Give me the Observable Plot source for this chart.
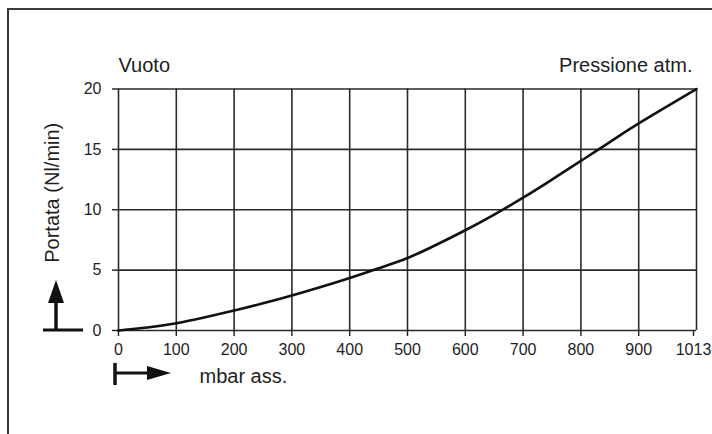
<!DOCTYPE html>
<html><head><meta charset="utf-8">
<script src="https://cdn.jsdelivr.net/npm/d3@7"></script>
<script src="https://cdn.jsdelivr.net/npm/@observablehq/plot@0.6"></script>
<style>
body{margin:0;background:#fff;overflow:hidden;}
#frame{position:absolute;left:7px;top:8px;width:760px;height:480px;border-left:2px solid #3a3a3a;border-top:2px solid #3a3a3a;}
#chart{position:absolute;left:0;top:0;}
</style></head><body>
<div id="frame"></div><div id="chart"></div>
<script>
// data
const pressure = [0, 50, 100, 150, 200, 250, 300, 350, 400, 450, 500, 550, 600, 650, 700, 750, 800, 850, 900, 1013];
const flow     = [0, 0.25, 0.6, 1.1, 1.65, 2.25, 2.9, 3.6, 4.35, 5.15, 6.0, 7.1, 8.3, 9.6, 11.0, 12.5, 14.05, 15.6, 17.15, 20];
const xTicks = [0, 100, 200, 300, 400, 500, 600, 700, 800, 900, 1013];
const yTicks = [0, 5, 10, 15, 20];
const leftTitle = "Vuoto";
const rightTitle = "Pressione atm.";
const xTitle = "mbar ass.";
const yTitle = "Portata (Nl/min)";

const data = pressure.map((p, i) => ({p, f: flow[i]}));
const lastX = xTicks[xTicks.length - 1];

const W = 712, H = 434, mL = 118, mR = 16, mT = 88.5, mB = 104;
const x0 = mL, x1 = W - mR;
const ink = "#1e1e1e";

const plot = Plot.plot({
  width: W, height: H,
  marginLeft: mL, marginRight: mR, marginTop: mT, marginBottom: mB,
  style: {fontFamily: "'Liberation Sans', Arial, sans-serif", background: "transparent", color: ink, overflow: "visible"},
  x: {type: "linear", domain: [0, 900, lastX], range: [x0, x0 + (x1 - x0) * 0.9, x1]},
  y: {type: "linear", domain: [0, 20]},
  marks: [
    Plot.gridX(xTicks, {stroke: "#2a2a2a", strokeOpacity: 1, strokeWidth: 1.6}),
    Plot.gridY(yTicks, {stroke: "#2a2a2a", strokeOpacity: 1, strokeWidth: 1.6}),
    Plot.axisX(xTicks.slice(0, -1), {tickSize: 6, tickPadding: 7, fontSize: 16, label: null, tickFormat: d => String(d), strokeWidth: 1.4}),
    Plot.axisX([lastX], {tickSize: 6, tickPadding: 7, fontSize: 16, label: null, tickFormat: d => String(d), strokeWidth: 1.4, dx: -3}),
    Plot.axisY(yTicks, {tickSize: 6, tickPadding: 11, fontSize: 16, label: null, tickFormat: d => String(d), strokeWidth: 1.4}),
    Plot.line(data, {x: "p", y: "f", curve: "natural", stroke: "#111", strokeWidth: 2.6}),
    Plot.text([leftTitle], {frameAnchor: "top-left", textAnchor: "start", lineAnchor: "bottom", dy: -17, fontSize: 20, fill: ink}),
    Plot.text([rightTitle], {frameAnchor: "top-right", textAnchor: "end", lineAnchor: "bottom", dx: -4, dy: -17, fontSize: 20, fill: ink}),
    Plot.text([xTitle], {frameAnchor: "bottom-left", textAnchor: "start", lineAnchor: "bottom", dx: 81, dy: 52, fontSize: 20, fill: ink}),
    Plot.text([yTitle], {frameAnchor: "left", textAnchor: "middle", lineAnchor: "top", rotate: -90, dx: -74, dy: -17, fontSize: 20, fill: ink})
  ]
});

// decorative direction arrows, positioned from the scales' origin
const sx = plot.scale("x"), sy = plot.scale("y");
const ox = sx.apply(0), oy = sy.apply(0);
const svg = d3.select(plot);
const g = svg.append("g").attr("fill", "#111").attr("stroke", "#111");
// up arrow
g.append("line").attr("x1", ox - 75).attr("x2", ox - 35).attr("y1", oy).attr("y2", oy).attr("stroke-width", 3);
g.append("line").attr("x1", ox - 62).attr("x2", ox - 62).attr("y1", oy).attr("y2", oy - 40).attr("stroke-width", 3.5);
g.append("path").attr("d", `M${ox-62},${oy-50} L${ox-70},${oy-27} L${ox-54},${oy-27} Z`).attr("stroke", "none");
// right arrow
g.append("line").attr("x1", ox - 3).attr("x2", ox - 3).attr("y1", oy + 33).attr("y2", oy + 55).attr("stroke-width", 3.5);
g.append("line").attr("x1", ox - 3).attr("x2", ox + 40).attr("y1", oy + 43).attr("y2", oy + 43).attr("stroke-width", 3);
g.append("path").attr("d", `M${ox+53},${oy+43} L${ox+29},${oy+36} L${ox+29},${oy+50} Z`).attr("stroke", "none");

document.getElementById("chart").appendChild(plot);
</script>
</body></html>
